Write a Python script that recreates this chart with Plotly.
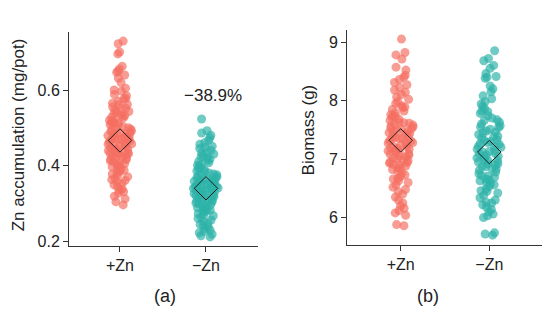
import plotly.graph_objects as go

categories = ["+Zn", "\u2212Zn"]

zn_plus = [0.731, 0.724, 0.702, 0.697, 0.664, 0.657, 0.651, 0.648, 0.641, 0.633, 0.621, 0.606,
           0.601, 0.598, 0.589, 0.586, 0.579, 0.577, 0.571, 0.566, 0.563, 0.562, 0.556, 0.553,
           0.551, 0.548, 0.544, 0.543, 0.539, 0.536, 0.533, 0.531, 0.529, 0.527, 0.522, 0.521,
           0.517, 0.514, 0.513, 0.509, 0.508, 0.504, 0.501, 0.499, 0.497, 0.494, 0.492, 0.492,
           0.488, 0.486, 0.484, 0.482, 0.480, 0.478, 0.476, 0.474, 0.472, 0.470, 0.468, 0.466,
           0.466, 0.463, 0.461, 0.458, 0.457, 0.454, 0.452, 0.451, 0.448, 0.446, 0.444, 0.443,
           0.440, 0.438, 0.436, 0.434, 0.433, 0.430, 0.428, 0.426, 0.424, 0.423, 0.419, 0.418,
           0.416, 0.413, 0.411, 0.408, 0.405, 0.403, 0.399, 0.397, 0.394, 0.391, 0.388, 0.385,
           0.381, 0.378, 0.375, 0.371, 0.367, 0.363, 0.361, 0.357, 0.353, 0.349, 0.344, 0.338,
           0.335, 0.331, 0.327, 0.319, 0.312, 0.304, 0.296, 0.455, 0.472, 0.487, 0.432, 0.514]
zn_minus = [0.524, 0.493, 0.487, 0.481, 0.474, 0.468, 0.461, 0.457, 0.452, 0.449, 0.446, 0.441,
            0.437, 0.434, 0.431, 0.427, 0.424, 0.421, 0.418, 0.414, 0.411, 0.408, 0.404, 0.401,
            0.398, 0.395, 0.392, 0.389, 0.386, 0.384, 0.381, 0.378, 0.376, 0.373, 0.371, 0.368,
            0.366, 0.363, 0.361, 0.359, 0.356, 0.354, 0.352, 0.350, 0.348, 0.346, 0.344, 0.342,
            0.340, 0.338, 0.336, 0.334, 0.332, 0.330, 0.328, 0.326, 0.324, 0.322, 0.320, 0.318,
            0.316, 0.313, 0.311, 0.309, 0.306, 0.304, 0.301, 0.299, 0.296, 0.293, 0.291, 0.288,
            0.285, 0.282, 0.279, 0.276, 0.273, 0.270, 0.267, 0.263, 0.260, 0.256, 0.252, 0.248,
            0.244, 0.241, 0.237, 0.233, 0.229, 0.226, 0.222, 0.218, 0.214, 0.211, 0.345, 0.362,
            0.331, 0.377, 0.352, 0.318, 0.341, 0.298, 0.367, 0.335, 0.324, 0.309, 0.358, 0.283]
zn_means = [0.467, 0.340]

bio_plus = [9.05, 8.82, 8.78, 8.71, 8.57, 8.52, 8.43, 8.40, 8.36, 8.31, 8.27, 8.22, 8.18, 8.14,
            8.10, 8.06, 8.02, 7.98, 7.95, 7.91, 7.88, 7.85, 7.82, 7.79, 7.76, 7.73, 7.71, 7.68,
            7.66, 7.63, 7.61, 7.59, 7.57, 7.55, 7.53, 7.51, 7.49, 7.47, 7.45, 7.43, 7.41, 7.39,
            7.37, 7.35, 7.33, 7.31, 7.29, 7.27, 7.25, 7.23, 7.21, 7.19, 7.17, 7.15, 7.13, 7.11,
            7.09, 7.07, 7.05, 7.02, 7.00, 6.98, 6.95, 6.93, 6.90, 6.88, 6.85, 6.82, 6.79, 6.76,
            6.73, 6.70, 6.67, 6.63, 6.60, 6.56, 6.52, 6.48, 6.44, 6.40, 6.35, 6.30, 6.25, 6.20,
            6.16, 6.12, 6.08, 6.04, 5.88, 5.86, 7.62, 7.44, 7.28, 7.14, 6.97, 7.36, 7.52, 7.08,
            6.91, 7.74, 7.21, 6.84, 7.47, 7.03, 6.66, 7.31, 7.89, 6.94, 7.18, 7.58]
bio_minus = [8.85, 8.72, 8.68, 8.60, 8.55, 8.46, 8.41, 8.40, 8.38, 8.25, 8.20, 8.15, 8.08, 8.03,
             7.98, 7.94, 7.90, 7.86, 7.82, 7.78, 7.74, 7.70, 7.66, 7.63, 7.60, 7.57, 7.54, 7.51,
             7.48, 7.45, 7.42, 7.39, 7.36, 7.33, 7.30, 7.28, 7.25, 7.22, 7.20, 7.17, 7.15, 7.12,
             7.10, 7.07, 7.05, 7.02, 7.00, 6.97, 6.95, 6.92, 6.90, 6.87, 6.84, 6.81, 6.78, 6.75,
             6.72, 6.69, 6.66, 6.63, 6.60, 6.56, 6.53, 6.49, 6.46, 6.42, 6.38, 6.34, 6.30, 6.26,
             6.22, 6.18, 6.14, 6.10, 6.06, 6.03, 6.00, 5.74, 5.72, 5.70, 7.38, 7.21, 7.04, 6.88,
             7.55, 6.71, 7.13, 6.97, 7.46, 6.58, 7.27, 6.83, 7.67, 6.45, 7.09, 6.92, 7.32, 6.25,
             7.81, 6.64]
bio_means = [7.32, 7.12]

pct_labels = ["\u221238.9%", "\u22125.6%"]
panel_labels = ["(a)", "(b)"]
y_titles = ["Zn accumulation (mg/pot)", "Biomass (g)"]

RED = "rgba(244,110,98,0.68)"
TEAL = "rgba(44,178,168,0.68)"
FONT = "Liberation Sans, Arial, sans-serif"
INK = "#222222"

# page body has an 8px margin; the figure canvas covers the rest of the window
OFF = 8
W, H = 550 - OFF, 321 - OFF


def px(xp):
    return (xp - OFF) / W


def py(yp):
    return 1 - (yp - OFF) / H


fig = go.Figure()


def add_panel(plus, minus, means, xa, ya):
    for vals, cat, col in [(plus, categories[0], RED), (minus, categories[1], TEAL)]:
        fig.add_trace(go.Box(
            y=vals, name=cat, x=[cat] * len(vals), boxpoints="all", jitter=1, pointpos=0,
            width=0.3, fillcolor="rgba(0,0,0,0)", line=dict(color="rgba(0,0,0,0)", width=0),
            marker=dict(color=col, size=9, line=dict(width=0)),
            xaxis=xa, yaxis=ya, showlegend=False, hoveron="points"))
    fig.add_trace(go.Scatter(
        x=categories, y=means, mode="markers",
        marker=dict(symbol="diamond-open", size=18, color="#1a1a1a", line=dict(width=1)),
        xaxis=xa, yaxis=ya, showlegend=False))


add_panel(zn_plus, zn_minus, zn_means, "x", "y")
add_panel(bio_plus, bio_minus, bio_means, "x2", "y2")

axis_common = dict(showline=True, linecolor="#333333", linewidth=1, ticks="outside",
                   ticklen=5, tickcolor="#333333", showgrid=False, zeroline=False,
                   tickfont=dict(family=FONT, size=16, color=INK))

fig.update_layout(
    width=W, height=H, margin=dict(l=0, r=0, t=0, b=0),
    paper_bgcolor="white", plot_bgcolor="white",
    xaxis=dict(domain=[px(69), px(258)], type="category", categoryorder="array",
               categoryarray=categories, range=[-0.593, 1.605], anchor="y", **axis_common),
    yaxis=dict(domain=[py(249), py(32)], range=[0.187, 0.756],
               tickvals=[0.2, 0.4, 0.6], ticktext=["0.2", "0.4", "0.6"], anchor="x", **axis_common),
    xaxis2=dict(domain=[px(347), px(543)], type="category", categoryorder="array",
                categoryarray=categories, range=[-0.606, 1.606], anchor="y2", **axis_common),
    yaxis2=dict(domain=[py(248), py(30)], range=[5.533, 9.21],
                tickvals=[6, 7, 8, 9], anchor="x2", **axis_common),
    boxmode="overlay",
)

common_ann = dict(showarrow=False, xanchor="center", yanchor="middle")
fig.add_annotation(x=1.08, y=0.586, xref="x", yref="y", text=pct_labels[0],
                   font=dict(family=FONT, size=17, color=INK), **common_ann)
fig.add_annotation(x=1.065, y=9.44, xref="x2", yref="y2", text=pct_labels[1],
                   font=dict(family=FONT, size=17, color=INK), **common_ann)
fig.add_annotation(x=px(165), y=py(300), xref="paper", yref="paper", text=panel_labels[0],
                   font=dict(family=FONT, size=18, color=INK), **common_ann)
fig.add_annotation(x=px(428), y=py(300), xref="paper", yref="paper", text=panel_labels[1],
                   font=dict(family=FONT, size=18, color=INK), **common_ann)
fig.add_annotation(x=px(18), y=py(137), xref="paper", yref="paper", text=y_titles[0],
                   textangle=-90, font=dict(family=FONT, size=17, color=INK), **common_ann)
fig.add_annotation(x=px(308), y=py(132), xref="paper", yref="paper", text=y_titles[1],
                   textangle=-90, font=dict(family=FONT, size=17, color=INK), **common_ann)

fig.write_html("out.html")
